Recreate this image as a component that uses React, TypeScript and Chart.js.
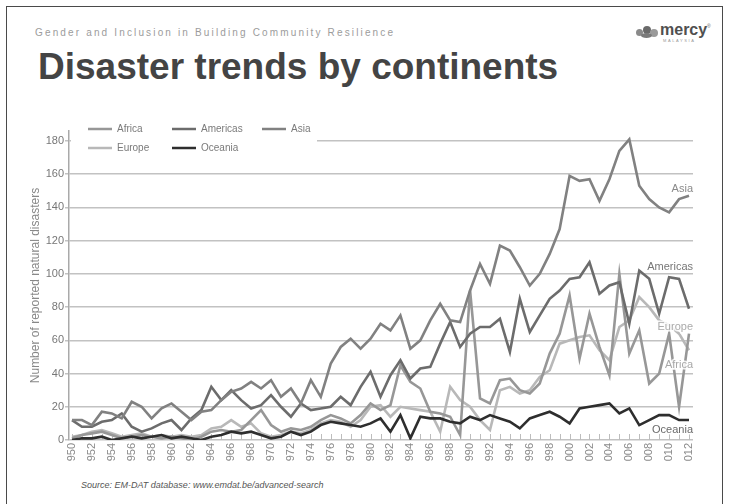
import React, { useEffect, useRef } from "react";
import { Chart, registerables } from "chart.js";

Chart.register(...registerables);

const FONT = '"Liberation Sans", Arial, Helvetica, sans-serif';

const years = [
  1950, 1951, 1952, 1953, 1954, 1955, 1956, 1957, 1958, 1959,
  1960, 1961, 1962, 1963, 1964, 1965, 1966, 1967, 1968, 1969,
  1970, 1971, 1972, 1973, 1974, 1975, 1976, 1977, 1978, 1979,
  1980, 1981, 1982, 1983, 1984, 1985, 1986, 1987, 1988, 1989,
  1990, 1991, 1992, 1993, 1994, 1995, 1996, 1997, 1998, 1999,
  2000, 2001, 2002, 2003, 2004, 2005, 2006, 2007, 2008, 2009,
  2010, 2011, 2012,
];

const xTickLabels = [
  1950, 1952, 1954, 1956, 1958, 1960, 1962, 1964, 1966, 1968, 1970,
  1972, 1974, 1976, 1978, 1980, 1982, 1984, 1986, 1988, 1990, 1992,
  1994, 1996, 1998, 2000, 2002, 2004, 2006, 2008, 2010, 2012,
];

const yTickLabels = [0, 20, 40, 60, 80, 100, 120, 140, 160, 180];

const africa = [
  1, 3, 4, 5, 3, 1, 2, 3, 2, 1,
  2, 1, 0, 2, 5, 6, 5, 6, 12, 18,
  9, 5, 7, 6, 8, 12, 15, 13, 10, 15,
  22, 18, 21, 45, 35, 31, 17, 16, 14, 3,
  90, 25, 22, 36, 37, 30, 28, 34, 52, 64,
  87, 49, 76, 56, 39, 100, 52, 66, 34, 40,
  64, 20, 64,
];

const americas = [
  12, 8, 8, 11, 12, 16, 8, 5, 7, 10,
  12, 6, 13, 18, 32, 24, 30, 24, 19, 21,
  27, 20, 14, 22, 18, 19, 20, 26, 21, 32,
  41, 26, 39, 48, 37, 43, 44, 58, 71, 56,
  64, 68, 68, 73, 53, 85, 65, 75, 85, 90,
  97, 98, 107, 88, 93, 95, 70, 102, 97, 76,
  98, 97, 79,
];

const asia = [
  12, 12, 9, 17, 16, 13, 23, 20, 13, 19,
  22, 17, 12, 17, 18, 24, 29, 31, 35, 31,
  36, 26, 31, 22, 36, 26, 46, 56, 61, 55,
  61, 70, 66, 75, 55, 60, 72, 82, 72, 71,
  90, 106, 94, 117, 114, 104, 93, 100, 112, 127,
  159, 156, 157, 144, 157, 174, 181, 153, 145, 140,
  137, 145, 147,
];

const europe = [
  2, 3, 5, 6, 4, 2, 3, 4, 2, 3,
  2, 3, 2, 3, 7, 8, 12, 8, 10, 4,
  2, 3, 5, 4, 6, 10, 12, 11, 8, 12,
  20, 21, 14, 20, 19, 18, 17, 5, 32, 24,
  20, 12, 6, 30, 32, 28, 30, 38, 42, 58,
  60, 62, 63, 54, 48, 68, 72, 86, 80, 72,
  69, 64, 54,
];

const oceania = [
  0, 1, 1, 2, 0, 1, 2, 1, 2, 3,
  1, 2, 1, 0, 2, 3, 5, 4, 5, 3,
  1, 2, 5, 3, 5, 9, 11, 10, 9, 8,
  10, 13, 5, 15, 1, 14, 13, 13, 11, 10,
  14, 12, 15, 13, 11, 7, 13, 15, 17, 14,
  10, 19, 20, 21, 22, 16, 19, 9, 12, 15,
  15, 12, 12,
];

const seriesNames = ["Africa", "Americas", "Asia", "Europe", "Oceania"];
const seriesValues = [africa, americas, asia, europe, oceania];
const seriesColors = ["#979797", "#6c6c6c", "#818181", "#b8b8b8", "#2e2e2e"];
const drawOrder = [3, 2, 1, 4, 0];

// value at which each continent name is written at the right edge
const endLabelValues = [45, 104, 151, 68, 6];
const endLabelColors = ["#a8a8a8", "#777777", "#8a8a8a", "#ababab", "#6a6a6a"];

// legend layout: [column, row] for each series
const legendCells = [
  [0, 0],
  [1, 0],
  [2, 0],
  [0, 1],
  [1, 1],
];

const legendPlugin = {
  id: "slideLegend",
  afterDatasetsDraw(chart: any) {
    const { ctx, chartArea } = chart;
    const colX = [19, 103, 193];
    const rowY = [-2, 17];
    ctx.save();
    ctx.fillStyle = "#ffffff";
    ctx.fillRect(chartArea.left + 2, chartArea.top - 16, 246, 43);
    ctx.font = `10px ${FONT}`;
    ctx.textBaseline = "middle";
    ctx.textAlign = "left";
    legendCells.forEach(([c, r], i) => {
      const x = chartArea.left + colX[c];
      const y = chartArea.top + rowY[r];
      ctx.strokeStyle = seriesColors[i];
      ctx.lineWidth = 2.5;
      ctx.beginPath();
      ctx.moveTo(x, y);
      ctx.lineTo(x + 24, y);
      ctx.stroke();
      ctx.fillStyle = "#7a7a7a";
      ctx.fillText(seriesNames[i], x + 29, y + 0.5);
    });
    ctx.restore();
  },
};

const endLabelPlugin = {
  id: "endLabels",
  afterDatasetsDraw(chart: any) {
    const { ctx, chartArea, scales } = chart;
    ctx.save();
    ctx.font = `11px ${FONT}`;
    ctx.textAlign = "right";
    ctx.textBaseline = "middle";
    seriesNames.forEach((name, i) => {
      const y = scales.y.getPixelForValue(endLabelValues[i]);
      const x = chartArea.right;
      ctx.lineWidth = 3;
      ctx.strokeStyle = "rgba(255,255,255,0.85)";
      ctx.strokeText(name, x, y);
      ctx.fillStyle = endLabelColors[i];
      ctx.fillText(name, x, y);
    });
    ctx.restore();
  },
};

const yearTickPlugin = {
  id: "yearTicks",
  beforeDatasetsDraw(chart: any) {
    const { ctx, chartArea, scales } = chart;
    ctx.save();
    ctx.strokeStyle = "#bdbdbd";
    ctx.lineWidth = 1;
    years.forEach((yr) => {
      const x = Math.round(scales.x.getPixelForValue(yr)) + 0.5;
      ctx.beginPath();
      ctx.moveTo(x, chartArea.bottom - 6);
      ctx.lineTo(x, chartArea.bottom);
      ctx.stroke();
    });
    ctx.restore();
  },
};

function DisasterChart() {
  const ref = useRef<HTMLCanvasElement | null>(null);
  useEffect(() => {
    if (!ref.current) return;
    Chart.defaults.font.family = FONT;
    const datasets = seriesNames.map((name, i) => ({
      label: name,
      data: seriesValues[i].map((v, j) => ({ x: years[j], y: v })),
      borderColor: seriesColors[i],
      backgroundColor: seriesColors[i],
      borderWidth: 2.6,
      pointRadius: 0,
      tension: 0,
      fill: false,
      order: drawOrder[i],
    }));
    const chart = new Chart(ref.current, {
      type: "line",
      data: { datasets },
      plugins: [yearTickPlugin, endLabelPlugin, legendPlugin],
      options: {
        animation: false,
        responsive: false,
        layout: { padding: { top: 19, right: 36, left: 0, bottom: 0 } },
        plugins: {
          legend: { display: false },
          tooltip: { enabled: false },
          title: { display: false },
        },
        scales: {
          x: {
            type: "linear",
            min: 1949.7,
            max: 2012.4,
            afterBuildTicks: (s: any) => {
              s.ticks = xTickLabels.map((v) => ({ value: v }));
            },
            afterFit: (s: any) => {
              s.height = 42;
            },
            grid: { display: false, drawTicks: false },
            border: { display: false },
            ticks: {
              autoSkip: false,
              minRotation: 90,
              maxRotation: 90,
              padding: 3,
              color: "#8a8a8a",
              font: { size: 11, family: FONT },
              callback: (v: any) => String(v),
            },
          },
          y: {
            min: 0,
            max: 186,
            afterBuildTicks: (s: any) => {
              s.ticks = yTickLabels.map((v) => ({ value: v }));
            },
            afterFit: (s: any) => {
              s.width = 69;
            },
            grid: {
              color: "#c2c2c2",
              lineWidth: 1.5,
              drawTicks: true,
              tickLength: 4,
            },
            border: { display: true, color: "#a9a9a9", width: 1.5 },
            ticks: {
              padding: 1,
              color: "#777777",
              font: { size: 11, family: FONT },
            },
            title: {
              display: true,
              text: "Number of reported natural disasters",
              color: "#888888",
              font: { size: 12, family: FONT },
              padding: { top: 28, bottom: 0 },
            },
          },
        },
      },
    });
    return () => chart.destroy();
  }, []);
  return (
    <canvas
      ref={ref}
      width={729}
      height={370}
      style={{ width: 729, height: 370, display: "block" }}
    />
  );
}

export default function App() {
  return (
    <div
      style={{
        position: "fixed",
        left: 0,
        top: 0,
        width: 729,
        height: 504,
        background: "#ffffff",
        overflow: "hidden",
        fontFamily: FONT,
      }}
    >
      <div
        style={{
          position: "absolute",
          left: 6,
          top: 6,
          width: 717,
          height: 540,
          boxSizing: "border-box",
          border: "1.5px solid #4a4a4a",
          borderBottom: "none",
        }}
      />
      <div
        style={{
          position: "absolute",
          left: 35,
          top: 28,
          fontSize: 10,
          lineHeight: "10px",
          letterSpacing: 2.15,
          color: "#9c9c9c",
          whiteSpace: "nowrap",
        }}
      >
        Gender and Inclusion in Building Community Resilience
      </div>
      <div
        style={{
          position: "absolute",
          left: 38,
          top: 48,
          fontSize: 37,
          lineHeight: "37px",
          fontWeight: 700,
          color: "#444444",
          whiteSpace: "nowrap",
        }}
      >
        Disaster trends by continents
      </div>
      <div style={{ position: "absolute", left: 636, top: 22, width: 80, height: 24 }}>
        <div style={{ position: "absolute", left: 0, top: 7, width: 7, height: 7, borderRadius: "50%", background: "#8a8a8a" }} />
        <div style={{ position: "absolute", left: 7, top: 4, width: 8, height: 8, borderRadius: "50%", background: "#6a6a6a" }} />
        <div style={{ position: "absolute", left: 14, top: 7, width: 8, height: 8, borderRadius: "50%", background: "#9a9a9a" }} />
        <div style={{ position: "absolute", left: 5, top: 11, width: 11, height: 5, borderRadius: "50%", background: "#7a7a7a" }} />
        <div
          style={{
            position: "absolute",
            left: 24,
            top: 0,
            fontSize: 16,
            lineHeight: "16px",
            fontWeight: 700,
            color: "#505050",
            whiteSpace: "nowrap",
          }}
        >
          mercy
        </div>
        <div style={{ position: "absolute", left: 71, top: 2, fontSize: 5, lineHeight: "5px", color: "#666" }}>®</div>
        <div
          style={{
            position: "absolute",
            left: 27,
            top: 17,
            fontSize: 4,
            lineHeight: "4px",
            letterSpacing: 1.6,
            color: "#999",
            whiteSpace: "nowrap",
          }}
        >
          MALAYSIA
        </div>
      </div>
      <div
        style={{
          position: "absolute",
          left: 0,
          top: 112,
          width: 729,
          height: 349,
          overflow: "hidden",
        }}
      >
        <DisasterChart />
      </div>
      <div
        style={{
          position: "absolute",
          left: 81,
          top: 480,
          fontSize: 9,
          lineHeight: "10px",
          fontStyle: "italic",
          color: "#555555",
          whiteSpace: "nowrap",
        }}
      >
        Source: EM-DAT database: www.emdat.be/advanced-search
      </div>
    </div>
  );
}
